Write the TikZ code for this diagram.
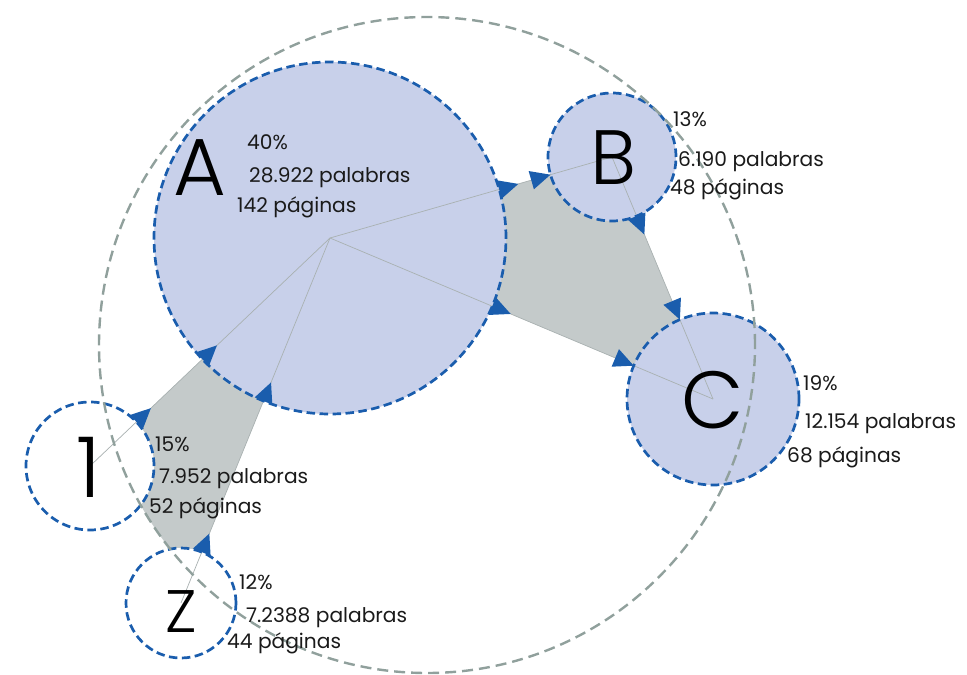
\documentclass[tikz,border=0pt]{standalone}
\usepackage{fontspec}
\setmainfont{Poppins}
\newfontfamily\thinface{Poppins Light}
\usetikzlibrary{calc}

\definecolor{circblue}{HTML}{1A5DAD}
\definecolor{lavender}{HTML}{C8D0EA}
\definecolor{bandgrey}{HTML}{C4CACA}
\definecolor{ringgrey}{HTML}{90A09C}
\definecolor{linkgrey}{HTML}{A9B1B1}
\definecolor{labeltext}{HTML}{1A1A1A}

% blue arrowhead: base centred on #1, aimed at #2
\newcommand\flowtip[2]{%
  \fill[circblue] ($(#1)!9.5pt!90:(#2)$) -- ($(#1)!20pt!(#2)$) -- ($(#1)!9.5pt!-90:(#2)$) -- cycle;}

\tikzset{
  hubnode/.style={circle, inner sep=0pt, minimum size=#1},
  bubbleedge/.style={draw=circblue, line width=2.7pt, dash pattern=on 8.5pt off 4.5pt},
  ringedge/.style={draw=ringgrey, line width=2.4pt, dash pattern=on 11pt off 6pt},
  link/.style={draw=linkgrey, line width=0.7pt},
  lbl/.style={inner sep=0pt, anchor=base west, text=labeltext, font=\fontsize{20.2}{23}\selectfont},
  bigletter/.style={inner sep=0pt, anchor=base, text=black, font=\thinface\fontsize{#1}{#1}\selectfont},
}

\begin{document}
\begin{tikzpicture}[x=1pt, y=-1pt]
\useasboundingbox (0,0) rectangle (967,675);

% circle centres
\node[hubnode=352pt] (A) at (330,238) {};
\node[hubnode=128pt] (B) at (612,157) {};
\node[hubnode=172pt] (C) at (713,399) {};
\node[hubnode=128pt] (one) at (90,466) {};
\node[hubnode=110pt] (Z) at (181,603) {};
\coordinate (hub) at (427,345);

% grey bands between the circles, kept inside the outer ring
\begin{scope}
  \clip (hub) circle[radius=328pt];
  \fill[bandgrey] (A.center) -- (B.center) -- (C.center) -- cycle;
  \fill[bandgrey] (A.center) -- (one.center) -- (Z.center) -- cycle;
\end{scope}

% circle fills
\fill[lavender] (A.center) circle[radius=176pt];
\fill[lavender] (B.center) circle[radius=64pt];
\fill[lavender] (C.center) circle[radius=86pt];
\fill[white] (one.center) circle[radius=64pt];
\fill[white] (Z.center) circle[radius=55pt];

% centre-to-centre links
\draw[link] (A.center) -- (B.center);
\draw[link] (A.center) -- (C.center);
\draw[link] (B.center) -- (C.center);
\draw[link] (A.center) -- (one.center);
\draw[link] (A.center) -- (Z.center);

% dashed outlines
\draw[bubbleedge] (A.center) circle[radius=176pt];
\draw[bubbleedge] (B.center) circle[radius=64pt];
\draw[bubbleedge] (C.center) circle[radius=86pt];
\draw[bubbleedge] (one.center) circle[radius=64pt];
\draw[bubbleedge] (Z.center) circle[radius=55pt];
\draw[ringedge] (hub) circle[radius=328pt];

% arrowheads
\path ($(A.center)!176pt!(B.center)$) coordinate (ab1)
      ($(B.center)!84pt!(A.center)$) coordinate (ab2)
      ($(B.center)!64pt!(C.center)$) coordinate (bc1)
      ($(C.center)!106pt!(B.center)$) coordinate (bc2)
      ($(A.center)!176pt!(C.center)$) coordinate (ac1)
      ($(C.center)!106pt!(A.center)$) coordinate (ac2)
      ($(one.center)!64pt!(A.center)$) coordinate (oa1)
      ($(A.center)!176pt!(one.center)$) coordinate (oa2)
      ($(Z.center)!55pt!(A.center)$) coordinate (za1)
      ($(A.center)!176pt!(Z.center)$) coordinate (za2);
\flowtip{ab1}{B.center}
\flowtip{ab2}{B.center}
\flowtip{bc1}{C.center}
\flowtip{bc2}{C.center}
\flowtip{ac1}{C.center}
\flowtip{ac2}{C.center}
\flowtip{oa1}{A.center}
\flowtip{oa2}{A.center}
\flowtip{za1}{A.center}
\flowtip{za2}{A.center}

% big letters
\node[bigletter=81] (tA) at (200,195) {A};
\node[bigletter=77] (tB) at (613,184) {B};
\node[bigletter=81] (tC) at (713,428) {C};
\node[bigletter=84] (t1) at (89,497) {1};
\node[bigletter=60] (tZ) at (181,632) {Z};

% figures
\node[lbl] (a1) at (247,149) {40\%};
\node[lbl] (a2) at (249,182) {28.922 palabras};
\node[lbl] (a3) at (237,212) {142 páginas};

\node[lbl] (b1) at (673,126) {13\%};
\node[lbl] (b2) at (678,166) {6.190 palabras};
\node[lbl] (b3) at (670,194) {48 páginas};

\node[lbl] (c1) at (803,390) {19\%};
\node[lbl] (c2) at (805,428) {12.154 palabras};
\node[lbl] (c3) at (787,462) {68 páginas};

\node[lbl] (o1) at (155,451) {15\%};
\node[lbl] (o2) at (159,483) {7.952 palabras};
\node[lbl] (o3) at (149,513) {52 páginas};

\node[lbl] (z1) at (239,589) {12\%};
\node[lbl] (z2) at (246,622) {7.2388 palabras};
\node[lbl] (z3) at (227,648) {44 páginas};
\end{tikzpicture}
\end{document}
